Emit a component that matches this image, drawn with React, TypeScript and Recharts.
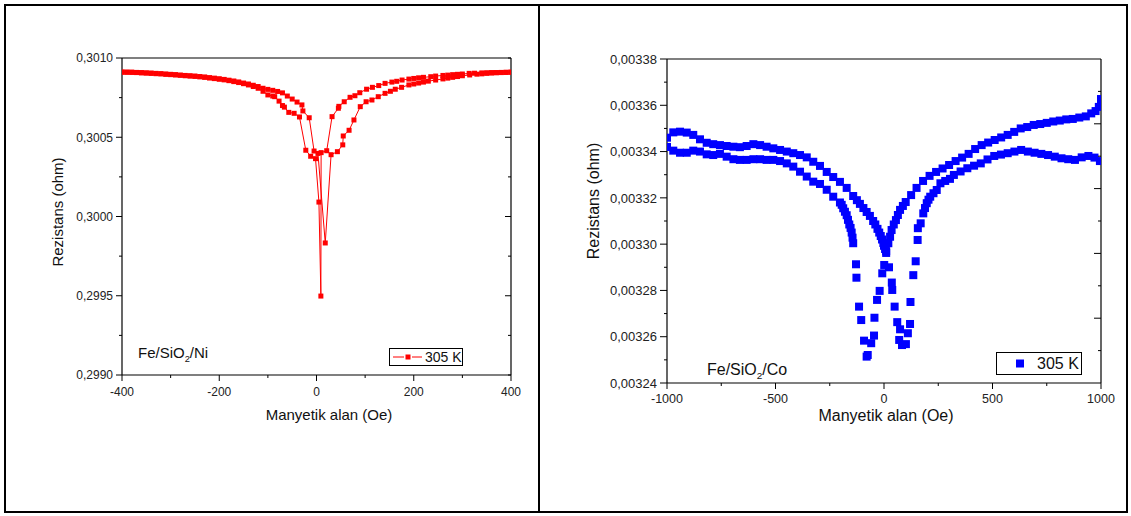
import React from 'react';
import { LineChart, Line, ScatterChart, Scatter, XAxis, YAxis } from 'recharts';

const FONT = '"Liberation Sans", Arial, Helvetica, sans-serif';

// ---------- Fe/SiO2/Ni (left panel) ----------
const niXTicks = [-400, -300, -200, -100, 0, 100, 200, 300, 400];
const niXMajor = [-400, -200, 0, 200, 400];
const niYTicks = [0.299, 0.29925, 0.2995, 0.29975, 0.3, 0.30025, 0.3005, 0.30075, 0.301];
const niYMajor = [0.299, 0.2995, 0.3, 0.3005, 0.301];

// branch whose dip is shallow (drops later on the negative side)
const niBranchU: [number, number][] = [
  [-400, 0.300912], [-390, 0.300911], [-380, 0.300911], [-370, 0.300909], [-360, 0.300908],
  [-350, 0.300906], [-340, 0.300905], [-330, 0.300903], [-320, 0.300901], [-310, 0.300899],
  [-300, 0.300897], [-290, 0.300895], [-280, 0.300892], [-270, 0.30089], [-260, 0.300888],
  [-250, 0.300886], [-240, 0.300883], [-230, 0.30088], [-220, 0.300876], [-210, 0.300873],
  [-200, 0.300869], [-190, 0.300865], [-180, 0.30086], [-170, 0.300855], [-160, 0.300849],
  [-150, 0.300842], [-140, 0.300836], [-130, 0.300828], [-120, 0.30082], [-110, 0.300809],
  [-100, 0.300802], [-90, 0.300796], [-80, 0.300789], [-70, 0.30078], [-60, 0.30076],
  [-50, 0.300741], [-40, 0.300722], [-30, 0.300704], [-28, 0.300666], [-15, 0.300623],
  [-5, 0.300413], [3, 0.300398], [18, 0.299833], [30, 0.30039], [43, 0.300409],
  [54, 0.300452], [55, 0.300508], [67, 0.300544], [77, 0.300609], [90, 0.300693],
  [102, 0.300724], [114, 0.300735], [127, 0.300756], [141, 0.300777], [152, 0.30079],
  [162, 0.300803], [175, 0.300815], [190, 0.30083], [200, 0.300836], [210, 0.300842],
  [220, 0.300848], [230, 0.300854], [245, 0.300861], [260, 0.300868], [270, 0.300873],
  [280, 0.300878], [290, 0.300883], [300, 0.300888], [315, 0.300893], [330, 0.300898],
  [340, 0.3009], [350, 0.300903], [360, 0.300905], [370, 0.300907], [380, 0.300908],
  [390, 0.300909], [400, 0.300911],
];

// branch with the deep dip (drops earlier on the negative side)
const niBranchL: [number, number][] = [
  [-400, 0.30091], [-390, 0.30091], [-380, 0.300909], [-370, 0.300908], [-360, 0.300906],
  [-350, 0.300905], [-340, 0.300903], [-330, 0.300901], [-320, 0.3009], [-310, 0.300897],
  [-300, 0.300895], [-290, 0.300893], [-280, 0.300891], [-270, 0.300888], [-260, 0.300886],
  [-250, 0.300884], [-240, 0.300881], [-230, 0.300878], [-220, 0.300874], [-210, 0.30087],
  [-200, 0.300866], [-190, 0.300862], [-180, 0.300857], [-170, 0.300851], [-160, 0.300845],
  [-150, 0.300838], [-140, 0.30083], [-130, 0.30082], [-120, 0.300809], [-110, 0.30079],
  [-100, 0.300767], [-90, 0.30076], [-86, 0.300756], [-77, 0.300728], [-70, 0.3007],
  [-66, 0.30069], [-57, 0.300657], [-46, 0.300651], [-35, 0.300628], [-22, 0.300418],
  [-12, 0.30038], [-2, 0.300365], [5, 0.300091], [9, 0.299498], [9.5, 0.300403],
  [21, 0.300415], [32, 0.30063], [45, 0.300683], [46, 0.300695], [57, 0.300724],
  [69, 0.300752], [79, 0.300762], [89, 0.300781], [103, 0.300803], [115, 0.300815],
  [128, 0.300826], [141, 0.30084], [155, 0.300848], [165, 0.300853], [176, 0.300861],
  [190, 0.300867], [200, 0.300871], [210, 0.300875], [220, 0.300878], [235, 0.300882],
  [245, 0.300886], [260, 0.30089], [270, 0.300892], [280, 0.300895], [290, 0.300897],
  [300, 0.300899], [314, 0.300903], [325, 0.300904], [340, 0.300906], [350, 0.300907],
  [360, 0.300908], [370, 0.300908], [380, 0.300909], [390, 0.30091], [400, 0.30091],
];

// ---------- Fe/SiO2/Co (right panel) ----------
const coXTicks = [-1000, -750, -500, -250, 0, 250, 500, 750, 1000];
const coXMajor = [-1000, -500, 0, 500, 1000];
const coYTicks = [0.00324, 0.00325, 0.00326, 0.00327, 0.00328, 0.00329, 0.0033, 0.00331,
  0.00332, 0.00333, 0.00334, 0.00335, 0.00336, 0.00337, 0.00338];
const coYMajor = [0.00324, 0.00326, 0.00328, 0.0033, 0.00332, 0.00334, 0.00336, 0.00338];
const coTopTicks = [-800, -600, -400, -200, 0, 200, 400, 600, 800];
const coTopMajor = [-600, -200, 200, 600];
const coRightTicks = [1, 2, 3, 4, 5, 6, 7, 8, 9];
const coRightMajor = [2, 4, 6, 8];

// branch dipping at negative field, ending high at +1000
const coBranchA: [number, number][] = [
  [-1000, 0.003342], [-971, 0.0033404], [-940, 0.0033395], [-909, 0.0033395], [-879, 0.0033404],
  [-848, 0.00334], [-817, 0.0033388], [-787, 0.0033385], [-756, 0.003339], [-725, 0.0033378],
  [-694, 0.0033367], [-664, 0.0033364], [-633, 0.0033364], [-602, 0.0033367], [-571, 0.0033367],
  [-541, 0.0033364], [-510, 0.0033364], [-479, 0.0033359], [-448, 0.0033349], [-418, 0.0033335],
  [-387, 0.0033313], [-356, 0.0033292], [-326, 0.003327], [-295, 0.003326], [-264, 0.0033235],
  [-234, 0.0033205], [-203, 0.003318], [-195, 0.003317], [-188, 0.0033155], [-180, 0.003314],
  [-172, 0.0033125], [-166, 0.0033105], [-160, 0.0033085], [-154, 0.003307], [-149, 0.003305],
  [-145, 0.0033028], [-142, 0.0033004], [-129, 0.0032913], [-127, 0.0032855], [-115, 0.003273],
  [-105, 0.0032672], [-92, 0.0032583], [-80, 0.0032514], [-75, 0.0032521], [-59, 0.0032572],
  [-46, 0.0032605], [-44, 0.0032682], [-32, 0.0032759], [-20, 0.0032798], [-8, 0.0032874],
  [1, 0.003291], [10, 0.003297], [20, 0.0033004], [28, 0.0033032], [35, 0.0033061],
  [45, 0.0033085], [55, 0.0033104], [64, 0.0033126], [74, 0.0033148], [87, 0.0033165],
  [100, 0.0033182], [125, 0.0033212], [150, 0.0033243], [180, 0.0033273], [210, 0.0033295],
  [240, 0.0033312], [270, 0.0033327], [300, 0.0033342], [330, 0.0033359], [360, 0.0033374],
  [390, 0.003339], [420, 0.0033411], [450, 0.0033428], [480, 0.0033439], [510, 0.003345],
  [540, 0.0033461], [570, 0.0033472], [600, 0.0033485], [630, 0.00335], [660, 0.0033506],
  [690, 0.0033515], [720, 0.0033519], [750, 0.0033524], [780, 0.003353], [810, 0.0033534],
  [840, 0.0033539], [870, 0.0033541], [900, 0.0033547], [930, 0.0033552], [955, 0.0033565],
  [975, 0.0033575], [990, 0.0033593], [1000, 0.003361], [1000, 0.0033627],
];

// branch dipping at positive field, ending low at +1000
const coBranchB: [number, number][] = [
  [-1000, 0.003346], [-971, 0.0033483], [-940, 0.0033486], [-909, 0.0033482], [-879, 0.0033472],
  [-848, 0.0033453], [-817, 0.0033438], [-787, 0.0033432], [-756, 0.0033428], [-725, 0.0033424],
  [-694, 0.0033421], [-664, 0.0033419], [-633, 0.0033424], [-602, 0.0033432], [-571, 0.0033428],
  [-541, 0.0033421], [-510, 0.0033414], [-479, 0.0033407], [-448, 0.00334], [-418, 0.0033393],
  [-387, 0.0033385], [-356, 0.0033375], [-326, 0.0033356], [-295, 0.0033338], [-264, 0.0033312],
  [-234, 0.003329], [-203, 0.0033269], [-172, 0.0033243], [-142, 0.0033208], [-125, 0.003319],
  [-111, 0.0033174], [-95, 0.0033156], [-80, 0.0033139], [-65, 0.0033122], [-50, 0.00331],
  [-40, 0.0033085], [-30, 0.0033066], [-22, 0.003305], [-15, 0.0033035], [-9, 0.003302],
  [-3, 0.0033005], [0, 0.0032993], [5, 0.0032979], [10, 0.0032962], [23, 0.00329],
  [36, 0.0032834], [38, 0.0032802], [49, 0.003273], [61, 0.0032663], [74, 0.0032632],
  [70, 0.0032586], [83, 0.0032564], [101, 0.0032568], [110, 0.0032615], [120, 0.0032655],
  [122, 0.003275], [135, 0.0032866], [146, 0.0032926], [155, 0.0033018], [156, 0.0033069],
  [169, 0.003309], [181, 0.0033133], [189, 0.0033156], [197, 0.0033177], [205, 0.0033192],
  [213, 0.0033205], [228, 0.003322], [243, 0.0033234], [260, 0.0033263], [282, 0.0033273],
  [304, 0.0033282], [322, 0.0033299], [353, 0.0033314], [384, 0.0033328], [415, 0.0033339],
  [446, 0.0033349], [477, 0.0033366], [508, 0.0033381], [539, 0.0033387], [570, 0.0033393],
  [601, 0.00334], [632, 0.0033407], [663, 0.00334], [694, 0.0033395], [725, 0.003339],
  [756, 0.0033385], [787, 0.0033378], [818, 0.0033371], [849, 0.0033367], [880, 0.0033364],
  [911, 0.0033375], [942, 0.0033381], [970, 0.0033374], [995, 0.0033359],
];

const toRows = (arr: [number, number][]) => arr.map(([h, r]) => ({ h, r }));

type Side = 'bottom' | 'top' | 'left' | 'right';
interface TickOpts {
  side: Side;
  majors: number[];
  majorLen: number;
  minorLen: number;
  labelOffset?: number;
  fontSize?: number;
  fmt?: (v: number) => string;
}

const makeTick = (o: TickOpts) => (props: any) => {
  const { x, y, payload, index } = props;
  const v = payload.value;
  const major = o.majors.some((m) => Math.abs(m - v) < 1e-9);
  const len = major ? o.majorLen : o.minorLen;
  let x2 = x;
  let y2 = y;
  if (o.side === 'bottom' || o.side === 'top') y2 = y + len;
  else x2 = x - len;
  let label: React.ReactNode = null;
  if (major && o.fmt) {
    if (o.side === 'bottom') {
      label = (
        <text x={x} y={y + (o.labelOffset || 0)} textAnchor="middle" fontSize={o.fontSize} fill="#222" fontFamily={FONT}>
          {o.fmt(v)}
        </text>
      );
    } else if (o.side === 'left') {
      label = (
        <text x={x - (o.labelOffset || 0)} y={y} dy="0.36em" textAnchor="end" fontSize={o.fontSize} fill="#222" fontFamily={FONT}>
          {o.fmt(v)}
        </text>
      );
    }
  }
  return (
    <g key={`t-${o.side}-${index}`}>
      <line x1={x} y1={y} x2={x2} y2={y2} stroke="#000" strokeWidth={1} />
      {label}
    </g>
  );
};

const comma = (d: number) => (v: number) => v.toFixed(d).replace('.', ',');
const intFmt = (v: number) => String(Math.round(v));

const RedSquare = (props: any) => {
  const { cx, cy, index } = props;
  if (cx == null || cy == null) return <g key={`e-${index}`} />;
  return <rect key={`d-${index}`} x={cx - 2.5} y={cy - 2.5} width={5} height={5} fill="#ff0000" />;
};

const BlueSquare = (props: any) => {
  const { cx, cy } = props;
  return <rect x={cx - 4} y={cy - 4} width={8} height={8} fill="#0000ff" />;
};

const axisLine = { stroke: '#000', strokeWidth: 1.2 };

// Left panel: plot area x 122..511, y 58..375 (chart at page 0,0; 540x516)
const NiChart = () => (
  <LineChart
    width={540}
    height={516}
    margin={{ top: 38, right: 19, bottom: 101, left: 0 }}
    style={{ position: 'absolute', left: 0, top: 0 }}
  >
    <XAxis
      xAxisId="b" dataKey="h" type="number" domain={[-400, 400]} ticks={niXTicks} interval={0}
      height={40} tickSize={0} tickMargin={0} tickLine={false} axisLine={axisLine} allowDataOverflow
      tick={makeTick({ side: 'bottom', majors: niXMajor, majorLen: 6, minorLen: 3, labelOffset: 21, fontSize: 12, fmt: intFmt })}
    />
    <XAxis
      xAxisId="t" orientation="top" type="number" domain={[-400, 400]} ticks={niXTicks} interval={0}
      height={20} tickSize={0} tickMargin={0} tickLine={false} axisLine={axisLine} allowDataOverflow
      tick={makeTick({ side: 'top', majors: [-200, 0, 200], majorLen: 6, minorLen: 3 })}
    />
    <YAxis
      yAxisId="l" type="number" domain={[0.299, 0.301]} ticks={niYTicks} interval={0}
      width={122} tickSize={0} tickMargin={0} tickLine={false} axisLine={axisLine} allowDataOverflow
      tick={makeTick({ side: 'left', majors: niYMajor, majorLen: 6, minorLen: 3, labelOffset: 9, fontSize: 12, fmt: comma(4) })}
    />
    <YAxis
      yAxisId="r" orientation="right" type="number" domain={[0.299, 0.301]} ticks={niYTicks} interval={0}
      width={10} tickSize={0} tickMargin={0} tickLine={false} axisLine={axisLine} allowDataOverflow
      tick={makeTick({ side: 'right', majors: [0.2995, 0.3, 0.3005], majorLen: 6, minorLen: 3 })}
    />
    <Line xAxisId="b" yAxisId="l" data={toRows(niBranchL)} dataKey="r" type="linear" stroke="#ff0000" strokeWidth={1}
      dot={RedSquare} activeDot={false} isAnimationActive={false} />
    <Line xAxisId="b" yAxisId="l" data={toRows(niBranchU)} dataKey="r" type="linear" stroke="#ff0000" strokeWidth={1}
      dot={RedSquare} activeDot={false} isAnimationActive={false} />
  </LineChart>
);

// Right panel: plot area x 667..1101, y 59..383 (chart at page 540,0; 591x516)
const CoChart = () => (
  <ScatterChart
    width={591}
    height={516}
    margin={{ top: 39, right: 20, bottom: 93, left: 0 }}
    style={{ position: 'absolute', left: 540, top: 0 }}
  >
    <XAxis
      xAxisId="b" dataKey="h" type="number" domain={[-1000, 1000]} ticks={coXTicks} interval={0}
      height={40} tickSize={0} tickMargin={0} tickLine={false} axisLine={axisLine} allowDataOverflow
      tick={makeTick({ side: 'bottom', majors: coXMajor, majorLen: 6, minorLen: 3, labelOffset: 20, fontSize: 12.5, fmt: intFmt })}
    />
    <XAxis
      xAxisId="t" orientation="top" type="number" domain={[-1000, 1000]} ticks={coTopTicks} interval={0}
      height={20} tickSize={0} tickMargin={0} tickLine={false} axisLine={axisLine} allowDataOverflow
      tick={makeTick({ side: 'top', majors: coTopMajor, majorLen: 6, minorLen: 3 })}
    />
    <YAxis
      yAxisId="l" dataKey="r" type="number" domain={[0.00324, 0.00338]} ticks={coYTicks} interval={0}
      width={127} tickSize={0} tickMargin={0} tickLine={false} axisLine={axisLine} allowDataOverflow
      tick={makeTick({ side: 'left', majors: coYMajor, majorLen: 7, minorLen: 3, labelOffset: 10, fontSize: 13, fmt: comma(5) })}
    />
    <YAxis
      yAxisId="r" orientation="right" type="number" domain={[0, 10]} ticks={coRightTicks} interval={0}
      width={10} tickSize={0} tickMargin={0} tickLine={false} axisLine={axisLine} allowDataOverflow
      tick={makeTick({ side: 'right', majors: coRightMajor, majorLen: 7, minorLen: 3 })}
    />
    <Scatter xAxisId="b" yAxisId="l" data={toRows(coBranchA)} dataKey="r" fill="#0000ff" shape={BlueSquare} isAnimationActive={false} />
    <Scatter xAxisId="b" yAxisId="l" data={toRows(coBranchB)} dataKey="r" fill="#0000ff" shape={BlueSquare} isAnimationActive={false} />
  </ScatterChart>
);

const abs = (s: React.CSSProperties): React.CSSProperties => ({ position: 'absolute', whiteSpace: 'nowrap', fontFamily: FONT, color: '#111', ...s });

export default function App() {
  return (
    <div style={{ position: 'absolute', left: 0, top: 0, width: 1131, height: 516, background: '#fff', overflow: 'hidden', fontFamily: FONT }}>
      <NiChart />
      <CoChart />

      {/* axis titles */}
      <div style={abs({ left: 57, top: 212, fontSize: 15, transform: 'translate(-50%, -50%) rotate(-90deg)' })}>Rezistans (ohm)</div>
      <div style={abs({ left: 329, top: 414, fontSize: 15, transform: 'translate(-50%, -50%)' })}>Manyetik alan (Oe)</div>
      <div style={abs({ left: 594, top: 201, fontSize: 16, transform: 'translate(-50%, -50%) rotate(-90deg)' })}>Rezistans (ohm)</div>
      <div style={abs({ left: 886, top: 416, fontSize: 16, transform: 'translate(-50%, -50%)' })}>Manyetik alan (Oe)</div>

      {/* sample annotations */}
      <div style={abs({ left: 138, top: 352, fontSize: 15, transform: 'translateY(-50%)' })}>
        Fe/SiO<span style={{ fontSize: '0.62em', position: 'relative', top: '0.45em' }}>2</span>/Ni
      </div>
      <div style={abs({ left: 707, top: 370, fontSize: 16, transform: 'translateY(-50%)' })}>
        Fe/SiO<span style={{ fontSize: '0.62em', position: 'relative', top: '0.45em' }}>2</span>/Co
      </div>

      {/* legends */}
      <div style={abs({ left: 389, top: 348, width: 74, height: 18, border: '1px solid #000', boxSizing: 'border-box', background: '#fff' })}>
        <svg width={34} height={16} style={{ position: 'absolute', left: 0, top: 0 }}>
          <line x1={3} y1={8} x2={14} y2={8} stroke="#ff0000" strokeWidth={1} />
          <rect x={15.5} y={5.5} width={5} height={5} fill="#ff0000" />
          <line x1={22} y1={8} x2={32} y2={8} stroke="#ff0000" strokeWidth={1} />
        </svg>
        <span style={{ position: 'absolute', left: 35, top: 0, fontSize: 14, lineHeight: '16px' }}>305 K</span>
      </div>
      <div style={abs({ left: 996, top: 352, width: 86, height: 23, border: '1px solid #000', boxSizing: 'border-box', background: '#fff' })}>
        <svg width={30} height={21} style={{ position: 'absolute', left: 0, top: 0 }}>
          <rect x={19} y={6.5} width={8} height={8} fill="#0000ff" />
        </svg>
        <span style={{ position: 'absolute', left: 40, top: 1, fontSize: 16, lineHeight: '19px' }}>305 K</span>
      </div>

      {/* panel frames */}
      <div style={{ position: 'absolute', left: 4, top: 4, width: 1124, height: 509, border: '2px solid #000', boxSizing: 'border-box', pointerEvents: 'none' }} />
      <div style={{ position: 'absolute', left: 538, top: 4, width: 2, height: 509, background: '#000', pointerEvents: 'none' }} />
    </div>
  );
}
